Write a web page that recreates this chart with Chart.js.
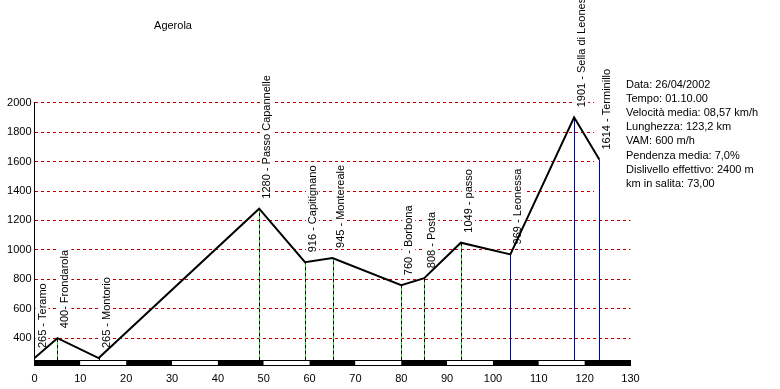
<!DOCTYPE html>
<html lang="it">
<head>
<meta charset="UTF-8">
<title>Agerola</title>
<script src="https://cdn.jsdelivr.net/npm/chart.js"></script>
<style>
  body { margin: 0; background: #fff; }
  canvas { display: block; }
</style>
</head>
<body>
<canvas id="profilo" width="780" height="389"></canvas>
<script>
// dati del percorso (km, quota in m)
const km = [0, 5, 14, 49, 59, 65, 80, 85, 93, 103.8, 117.7, 123.2];
const quota = [265, 400, 265, 1280, 916, 945, 760, 808, 1049, 969, 1901, 1614];
const etichette = [
  '265 - Teramo', '400- Frondarola', '265 - Montorio', '1280 - Passo Capannelle',
  '916 - Capitignano', '945 - Montereale', '760 - Borbona', '808 - Posta',
  '1049 - passo', '969 - Leonessa', '1901 - Sella di Leonessa', '1614 - Terminillo'
];
const yTicks = [400, 600, 800, 1000, 1200, 1400, 1600, 1800, 2000];
const xTicks = [0, 10, 20, 30, 40, 50, 60, 70, 80, 90, 100, 110, 120, 130];
const titolo = 'Agerola';
const info = [
  'Data: 26/04/2002',
  'Tempo: 01.10.00',
  'Velocità media: 08,57 km/h',
  'Lunghezza: 123,2 km',
  'VAM: 600 m/h',
  'Pendenza media: 7,0%',
  'Dislivello effettivo: 2400 m',
  'km in salita: 73,00'
];

const FONT = '11px Arial, "Liberation Sans", sans-serif';

// drop lines, labels and the white box behind the info text
const sottoProfilo = {
  id: 'sottoProfilo',
  beforeDatasetsDraw(chart) {
    const { ctx, chartArea, scales: { x, y } } = chart;
    ctx.save();
    ctx.fillStyle = '#fff';
    ctx.fillRect(594, 76, 186, 120);

    ctx.lineWidth = 1;
    km.forEach((k, i) => {
      if (k === 0) return;
      const px = Math.round(x.getPixelForValue(k)) + 0.5;
      const py = y.getPixelForValue(quota[i]);
      const line = (color, dash, offset) => {
        ctx.beginPath();
        ctx.setLineDash(dash);
        ctx.lineDashOffset = offset;
        ctx.strokeStyle = color;
        ctx.moveTo(px, chartArea.bottom);
        ctx.lineTo(px, py);
        ctx.stroke();
      };
      if (i >= 9) {
        line('#0000b0', [], 0);
      } else {
        line('#000', [3, 3], 0);
        line('#22cc22', [3, 3], 3);
      }
    });
    ctx.setLineDash([]);
    ctx.lineDashOffset = 0;

    ctx.font = FONT;
    ctx.textAlign = 'left';
    ctx.textBaseline = 'middle';
    km.forEach((k, i) => {
      const px = x.getPixelForValue(k);
      const py = y.getPixelForValue(quota[i]);
      ctx.save();
      ctx.translate(px + 7.5, py - 10);
      ctx.rotate(-Math.PI / 2);
      const w = ctx.measureText(etichette[i]).width;
      ctx.fillStyle = '#fff';
      ctx.fillRect(-1, -6.5, w + 3, 13);
      ctx.fillStyle = '#000';
      ctx.fillText(etichette[i], 0, 0.5);
      ctx.restore();
    });
    ctx.restore();
  },
  afterDraw(chart) {
    const { ctx, chartArea, scales: { x } } = chart;
    ctx.save();
    // righello sotto l'asse
    const top = chartArea.bottom + 0.5;
    for (let k = 0; k < 130; k += 10) {
      const a = x.getPixelForValue(k);
      const b = x.getPixelForValue(k + 10);
      ctx.fillStyle = (k / 10) % 2 === 0 ? '#000' : '#fff';
      ctx.fillRect(a, top, b - a, 5);
    }
    ctx.strokeStyle = '#000';
    ctx.lineWidth = 1;
    ctx.strokeRect(x.getPixelForValue(0), top, x.getPixelForValue(130) - x.getPixelForValue(0), 5);

    ctx.fillStyle = '#000';
    ctx.font = FONT;
    ctx.textAlign = 'center';
    ctx.textBaseline = 'middle';
    ctx.fillText(titolo, 173, 26);

    ctx.textAlign = 'left';
    info.forEach((r, i) => ctx.fillText(r, 626, 85 + i * 14.1));
    ctx.restore();
  }
};

const tickFont = { family: 'Arial, "Liberation Sans", sans-serif', size: 11 };

new Chart(document.getElementById('profilo'), {
  type: 'line',
  data: {
    datasets: [{
      data: km.map((k, i) => ({ x: k, y: quota[i] })),
      borderColor: '#000',
      borderWidth: 2,
      pointRadius: 0,
      tension: 0,
      fill: false
    }]
  },
  options: {
    responsive: false,
    animation: false,
    layout: { padding: { left: 0, right: 149.5, top: 102.7, bottom: 0 } },
    plugins: { legend: { display: false }, tooltip: { enabled: false } },
    scales: {
      x: {
        type: 'linear',
        min: 0,
        max: 130,
        afterFit: s => { s.height = 29; },
        afterBuildTicks: s => { s.ticks = xTicks.map(v => ({ value: v })); },
        grid: { display: false, drawTicks: false },
        border: { display: false },
        ticks: { color: '#000', font: tickFont, padding: 12, maxRotation: 0, callback: v => String(v) }
      },
      y: {
        min: 252,
        max: 2000,
        afterFit: s => { s.width = 34.5; },
        afterBuildTicks: s => { s.ticks = yTicks.map(v => ({ value: v })); },
        grid: { color: '#c00000', lineWidth: 1, drawTicks: false },
        border: { display: true, color: '#000', width: 1, dash: [3, 3] },
        ticks: { color: '#000', font: tickFont, padding: 3, callback: v => String(v) }
      }
    }
  },
  plugins: [sottoProfilo]
});
</script>
</body>
</html>
